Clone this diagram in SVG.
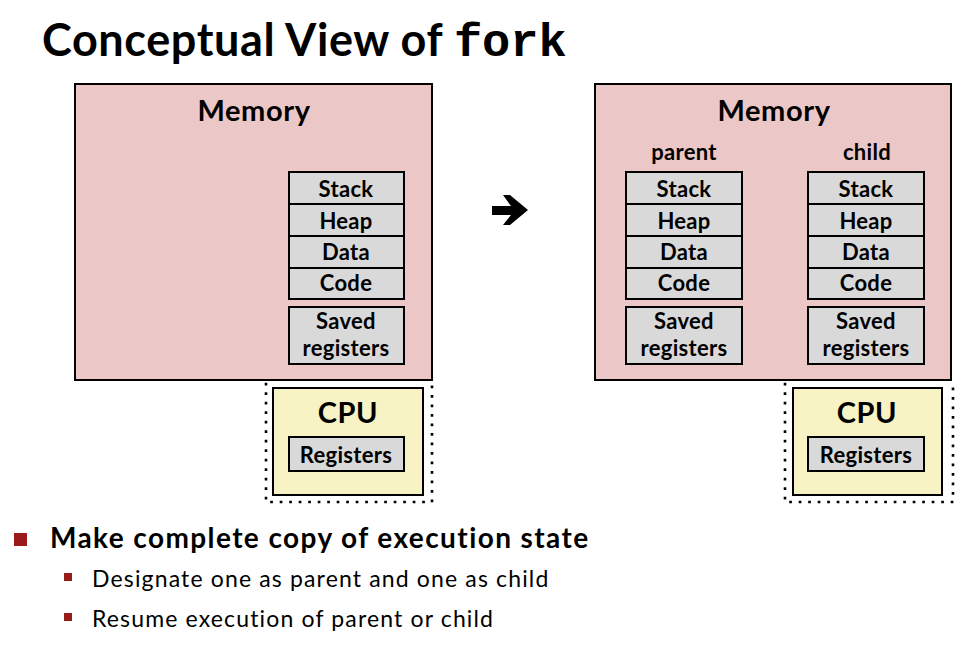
<svg xmlns="http://www.w3.org/2000/svg" width="966" height="650" viewBox="0 0 966 650">
<style>
.t{font-family:Lato,"Open Sans","Liberation Sans",sans-serif;font-weight:bold;fill:#000}
.mem{fill:#EBC7C7;stroke:#000;stroke-width:2}
.seg{fill:#D9D9D9;stroke:#000;stroke-width:2}
.cpu{fill:#F7F3C4;stroke:#000;stroke-width:2}
.dot{fill:none;stroke:#000;stroke-width:2.6;stroke-dasharray:0.1 9.4;stroke-linecap:square}
.lbl{font-size:22px;text-anchor:middle;letter-spacing:0.3px}
.big{font-size:29px;text-anchor:middle;letter-spacing:0.6px}
.reg{font-family:Lato,"Open Sans","Liberation Sans",sans-serif;font-size:23px;fill:#000;letter-spacing:1.15px}
</style>
<text x="42" y="56" class="t" font-size="45" letter-spacing="0.6">Conceptual View of <tspan font-family="'Liberation Mono','DejaVu Sans Mono',monospace" font-size="47" letter-spacing="0">fork</tspan></text>

<g id="left-dotted"><path class="dot" d="M266 384 V502 H432 V384"/></g>
<g id="left-memory">
<rect class="mem" x="75" y="84" width="357" height="296"/>
<text x="254" y="121" class="t big">Memory</text>
</g>
<g id="left-segments">
<rect class="seg" x="289" y="172" width="115" height="32"/><text x="346" y="197" class="t lbl">Stack</text>
<rect class="seg" x="289" y="204" width="115" height="32"/><text x="346" y="229" class="t lbl">Heap</text>
<rect class="seg" x="289" y="236" width="115" height="32"/><text x="346" y="260" class="t lbl">Data</text>
<rect class="seg" x="289" y="268" width="115" height="31"/><text x="346" y="291" class="t lbl">Code</text>
<rect class="seg" x="289" y="307" width="115" height="57"/><text x="346" y="329" class="t lbl">Saved</text><text x="346" y="356" class="t lbl">registers</text>
</g>
<g id="left-cpu">
<rect class="cpu" x="273" y="388" width="150" height="107"/>
<text x="348" y="423" class="t big">CPU</text>
<rect class="seg" x="289" y="437" width="115" height="34"/><text x="346" y="463" class="t lbl">Registers</text>
</g>

<g id="connectors"><polygon points="492,206 511,206 503,195 510,195 528,210 510,225 503,225 511,215 492,215" fill="#000"/></g>

<g id="right-dotted"><path class="dot" d="M785 384 V502 H953 V384"/></g>
<g id="right-memory">
<rect class="mem" x="595" y="84" width="356" height="296"/>
<text x="774" y="121" class="t big">Memory</text>
<text x="684" y="160" class="t lbl">parent</text>
<text x="867" y="160" class="t lbl">child</text>
</g>
<g id="parent-segments">
<rect class="seg" x="626" y="172" width="116" height="32"/><text x="684" y="197" class="t lbl">Stack</text>
<rect class="seg" x="626" y="204" width="116" height="32"/><text x="684" y="229" class="t lbl">Heap</text>
<rect class="seg" x="626" y="236" width="116" height="32"/><text x="684" y="260" class="t lbl">Data</text>
<rect class="seg" x="626" y="268" width="116" height="31"/><text x="684" y="291" class="t lbl">Code</text>
<rect class="seg" x="626" y="307" width="116" height="57"/><text x="684" y="329" class="t lbl">Saved</text><text x="684" y="356" class="t lbl">registers</text>
</g>
<g id="child-segments">
<rect class="seg" x="808" y="172" width="116" height="32"/><text x="866" y="197" class="t lbl">Stack</text>
<rect class="seg" x="808" y="204" width="116" height="32"/><text x="866" y="229" class="t lbl">Heap</text>
<rect class="seg" x="808" y="236" width="116" height="32"/><text x="866" y="260" class="t lbl">Data</text>
<rect class="seg" x="808" y="268" width="116" height="31"/><text x="866" y="291" class="t lbl">Code</text>
<rect class="seg" x="808" y="307" width="116" height="57"/><text x="866" y="329" class="t lbl">Saved</text><text x="866" y="356" class="t lbl">registers</text>
</g>
<g id="right-cpu">
<rect class="cpu" x="793" y="388" width="149" height="107"/>
<text x="867" y="423" class="t big">CPU</text>
<rect class="seg" x="808" y="437" width="116" height="34"/><text x="866" y="463" class="t lbl">Registers</text>
</g>

<g id="bullets">
<rect x="14" y="533" width="13" height="13" fill="#9B1B1B"/>
<text x="50" y="548" class="t" font-size="28" letter-spacing="1.4">Make complete copy of execution state</text>
<rect x="64" y="573" width="8" height="8" fill="#9B1B1B"/>
<text x="92" y="587" class="reg">Designate one as parent and one as child</text>
<rect x="64" y="613" width="8" height="8" fill="#9B1B1B"/>
<text x="92" y="627" class="reg">Resume execution of parent or child</text>
</g>
</svg>
